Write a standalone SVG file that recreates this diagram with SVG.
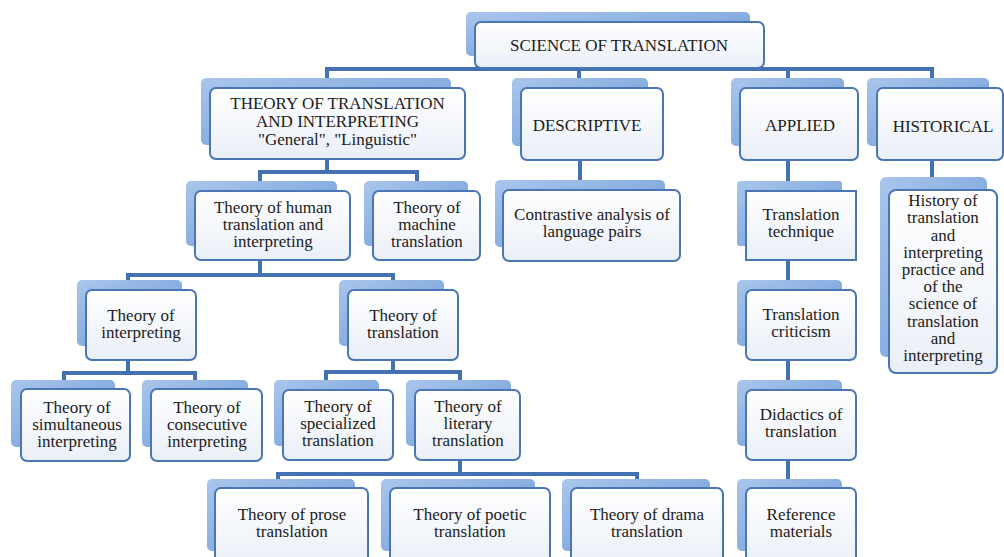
<svg xmlns="http://www.w3.org/2000/svg" width="1004" height="557" viewBox="0 0 1004 557">
<defs>
<linearGradient id="sh" x1="0" y1="0" x2="1" y2="1">
<stop offset="0" stop-color="#a9c6ec"/>
<stop offset="1" stop-color="#6c98d6"/>
</linearGradient>
<linearGradient id="fr" x1="0" y1="0" x2="0" y2="1">
<stop offset="0" stop-color="#ffffff"/>
<stop offset="1" stop-color="#eaeff7"/>
</linearGradient>
<style>
.s{fill:url(#sh);}
.f{fill:url(#fr);stroke:#4a76b6;stroke-width:2;}
text{font-family:"Liberation Serif","Times New Roman",serif;font-size:17px;fill:#1c1c1c;text-anchor:middle;}
.c{fill:none;stroke:#4471b2;stroke-width:4;stroke-linejoin:miter;}
</style>
</defs>
<rect width="1004" height="557" fill="#ffffff"/>
<g id="connectors">
<path class="c" d="M327,80 V69 H932 V80 M579,60 V80 M788,69 V80"/>
<path class="c" d="M327,150 V172 M260,181 V172 H417 V181"/>
<path class="c" d="M580,150 V181"/>
<path class="c" d="M788,150 V481"/>
<path class="c" d="M932,150 V181"/>
<path class="c" d="M260,255 V275 M128,281 V275 H393 V281"/>
<path class="c" d="M128,355 V373 M64,380 V373 H195 V380"/>
<path class="c" d="M393,355 V372 M326,381 V372 H460 V381"/>
<path class="c" d="M460,455 V474 M278,480 V474 H637 V480"/>
</g>
<g id="n-science"><rect class="s" x="466" y="12" width="284" height="44" rx="5"/><rect class="f" x="475" y="22" width="289" height="46" rx="6"/><text x="619" y="51">SCIENCE OF TRANSLATION</text></g>
<g id="n-theory"><rect class="s" x="201" y="78" width="250" height="67" rx="5"/><rect class="f" x="210" y="88" width="255" height="71" rx="6"/><text x="337.5" y="109">THEORY OF TRANSLATION</text><text x="337.5" y="127">AND INTERPRETING</text><text x="337.5" y="145">"General", "Linguistic"</text></g>
<g id="n-descriptive"><rect class="s" x="512" y="78" width="136" height="68" rx="5"/><rect class="f" x="521" y="88" width="142" height="72" rx="6"/><text x="587" y="131">DESCRIPTIVE</text></g>
<g id="n-applied"><rect class="s" x="731" y="78" width="113" height="68" rx="5"/><rect class="f" x="740" y="88" width="118" height="72" rx="6"/><text x="800" y="131">APPLIED</text></g>
<g id="n-historical"><rect class="s" x="867" y="78" width="122" height="68" rx="5"/><rect class="f" x="877" y="88" width="126" height="72" rx="6"/><text x="943" y="132">HISTORICAL</text></g>
<g id="n-human"><rect class="s" x="186" y="181" width="151" height="65" rx="5"/><rect class="f" x="195" y="191" width="155" height="69" rx="6"/><text x="273" y="213">Theory of human</text><text x="273" y="230">translation and</text><text x="273" y="247">interpreting</text></g>
<g id="n-machine"><rect class="s" x="364" y="181" width="104" height="65" rx="5"/><rect class="f" x="373" y="191" width="107" height="69" rx="6"/><text x="427" y="213">Theory of</text><text x="427" y="230">machine</text><text x="427" y="247">translation</text></g>
<g id="n-contrastive"><rect class="s" x="495" y="180" width="170" height="67" rx="5"/><rect class="f" x="503" y="190" width="177" height="71" rx="6"/><text x="592" y="220">Contrastive analysis of</text><text x="592" y="237">language pairs</text></g>
<g id="n-technique"><rect class="s" x="737" y="181" width="105" height="65" rx="3"/><rect class="f" x="746" y="191" width="110" height="69"/><text x="801" y="220">Translation</text><text x="801" y="237">technique</text></g>
<g id="n-history"><rect class="s" x="880" y="177" width="107" height="180" rx="6"/><rect class="f" x="889" y="190" width="108" height="183" rx="7"/><text x="943" y="206">History of</text><text x="943" y="223">translation</text><text x="943" y="241">and</text><text x="943" y="258">interpreting</text><text x="943" y="275">practice and</text><text x="943" y="292">of the</text><text x="943" y="309">science of</text><text x="943" y="327">translation</text><text x="943" y="344">and</text><text x="943" y="361">interpreting</text></g>
<g id="n-criticism"><rect class="s" x="737" y="280" width="105" height="66" rx="5"/><rect class="f" x="746" y="290" width="110" height="70" rx="6"/><text x="801" y="320">Translation</text><text x="801" y="337">criticism</text></g>
<g id="n-didactics"><rect class="s" x="737" y="380" width="105" height="66" rx="5"/><rect class="f" x="746" y="390" width="110" height="70" rx="6"/><text x="801" y="420">Didactics of</text><text x="801" y="437">translation</text></g>
<g id="n-reference"><rect class="s" x="737" y="479" width="105" height="72" rx="5"/><rect class="f" x="746" y="488" width="110" height="78" rx="6"/><text x="801" y="520">Reference</text><text x="801" y="537">materials</text></g>
<g id="n-interpreting"><rect class="s" x="77" y="280" width="105" height="66" rx="5"/><rect class="f" x="86" y="290" width="110" height="70" rx="6"/><text x="141" y="321">Theory of</text><text x="141" y="338">interpreting</text></g>
<g id="n-translation"><rect class="s" x="339" y="280" width="105" height="66" rx="5"/><rect class="f" x="348" y="290" width="110" height="70" rx="6"/><text x="403" y="321">Theory of</text><text x="403" y="338">translation</text></g>
<g id="n-simultaneous"><rect class="s" x="11" y="380" width="104" height="67" rx="5"/><rect class="f" x="21" y="389" width="109" height="72" rx="6"/><text x="77" y="413">Theory of</text><text x="77" y="430">simultaneous</text><text x="77" y="447">interpreting</text></g>
<g id="n-consecutive"><rect class="s" x="142" y="380" width="106" height="67" rx="5"/><rect class="f" x="151" y="389" width="111" height="72" rx="6"/><text x="207" y="413">Theory of</text><text x="207" y="430">consecutive</text><text x="207" y="447">interpreting</text></g>
<g id="n-specialized"><rect class="s" x="274" y="380" width="105" height="66" rx="5"/><rect class="f" x="283" y="390" width="110" height="70" rx="6"/><text x="338" y="412">Theory of</text><text x="338" y="429">specialized</text><text x="338" y="446">translation</text></g>
<g id="n-literary"><rect class="s" x="406" y="380" width="105" height="66" rx="5"/><rect class="f" x="415" y="390" width="105" height="70" rx="6"/><text x="468" y="412">Theory of</text><text x="468" y="429">literary</text><text x="468" y="446">translation</text></g>
<g id="n-prose"><rect class="s" x="207" y="479" width="148" height="72" rx="5"/><rect class="f" x="215" y="488" width="153" height="78" rx="6"/><text x="292" y="520">Theory of prose</text><text x="292" y="537">translation</text></g>
<g id="n-poetic"><rect class="s" x="381" y="479" width="154" height="72" rx="5"/><rect class="f" x="390" y="488" width="160" height="78" rx="6"/><text x="470" y="520">Theory of poetic</text><text x="470" y="537">translation</text></g>
<g id="n-drama"><rect class="s" x="562" y="479" width="148" height="72" rx="5"/><rect class="f" x="571" y="488" width="152" height="78" rx="6"/><text x="647" y="520">Theory of drama</text><text x="647" y="537">translation</text></g>
</svg>
